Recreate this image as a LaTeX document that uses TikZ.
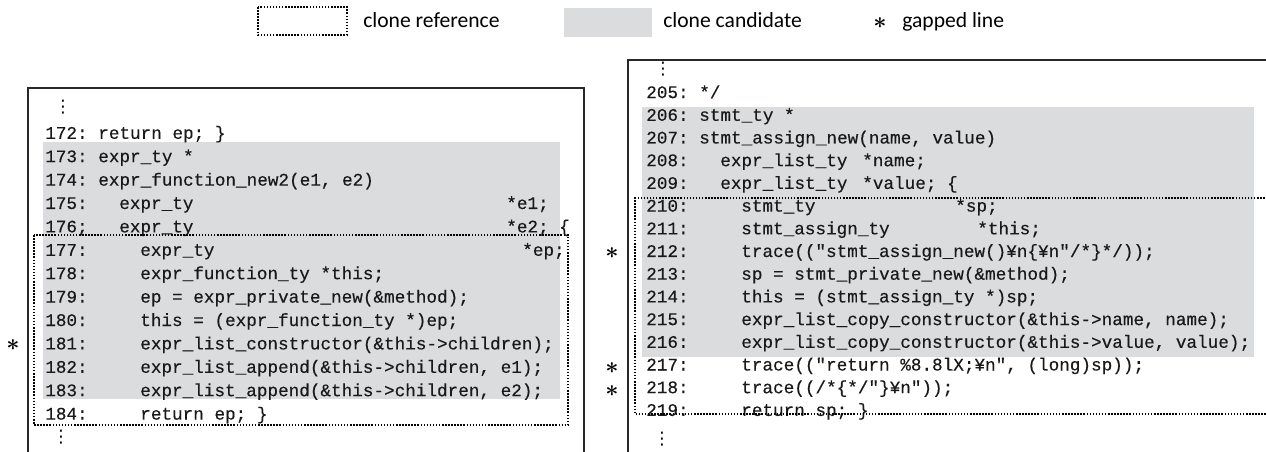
\documentclass[tikz,border=0pt]{standalone}
\usepackage{fontspec}
\newfontfamily\codefont{Liberation Mono}[FakeBold=0.3]
\newfontfamily\legfont{Carlito}
\newfontfamily\symfont{DejaVu Sans}
\definecolor{candgray}{RGB}{219,220,222}
\definecolor{linegray}{RGB}{40,40,40}
\newcommand\codesize{\fontsize{13.25}{16}\selectfont}
\newcommand\legsize{\fontsize{16.2}{19}\selectfont}
\tikzset{
  code/.style={anchor=base west, inner sep=0pt, font=\codefont\codesize, text=black!90},
  codeA/.style={code, yshift=-4.35pt},
  leg/.style={anchor=base west, inner sep=0pt, font=\legfont\legsize},
  boxline/.style={line width=1.1pt, draw=linegray},
  clonebox/.style={line width=1.15pt, dash pattern=on 1.15pt off 1.15pt, draw=black},
  cand/.style={fill=candgray, draw=none},
  gapmark/.style={inner sep=0pt, font=\fontsize{19}{19}\selectfont\boldmath},
  vdot/.style={inner sep=0pt, font=\symfont\fontsize{13}{13}\selectfont}
}
\begin{document}
\begin{tikzpicture}[x=0.75pt,y=-0.75pt]
\useasboundingbox (0,0) rectangle (1266,452);
\clip (0,0) rectangle (1266,452);

% ---------- legend ----------
\draw[clonebox] (258,7) rectangle (347,35);
\node[leg] (legref) at (363,28) {clone reference};
\fill[cand] (564,8) rectangle (652,37);
\node[leg] (legcand) at (663,28) {clone candidate};
\node[gapmark] (legstar) at (880,23) {$\ast$};
\node[leg] (leggap) at (902,28) {gapped line};

% ---------- left listing ----------
\fill[cand] (43,142) rectangle (560,399);
\draw[boxline] (28,470) -- (28,88) -- (584,88) -- (584,470);

\node[vdot] (Ldtop) at (63,107) {⋮};
\node[codeA] (L172n) at (45,133.0) {172:};
\node[codeA] (L172c) at (98,133.0) {return ep; \}};
\node[codeA] (L173n) at (45,156.4) {173:};
\node[codeA] (L173c) at (98,156.4) {expr\_ty *};
\node[codeA] (L174n) at (45,179.8) {174:};
\node[codeA] (L174c) at (98,179.8) {expr\_function\_new2(e1, e2)};
\node[codeA] (L175n) at (45,203.2) {175:};
\node[codeA] (L175c) at (119,203.2) {expr\_ty};
\node[codeA] (L175d) at (506,203.2) {*e1;};
\node[codeA] (L176n) at (45,226.6) {176;};
\node[codeA] (L176c) at (119,226.6) {expr\_ty};
\node[codeA] (L176d) at (506,226.6) {*e2; \{};
\node[codeA] (L177n) at (45,250.0) {177:};
\node[codeA] (L177c) at (140,250.0) {expr\_ty};
\node[codeA] (L177d) at (522,250.0) {*ep;};
\node[codeA] (L178n) at (45,273.4) {178:};
\node[codeA] (L178c) at (140,273.4) {expr\_function\_ty *this;};
\node[codeA] (L179n) at (45,296.8) {179:};
\node[codeA] (L179c) at (140,296.8) {ep = expr\_private\_new(\&method);};
\node[codeA] (L180n) at (45,320.2) {180:};
\node[codeA] (L180c) at (140,320.2) {this = (expr\_function\_ty *)ep;};
\node[codeA] (L181n) at (45,343.6) {181:};
\node[codeA] (L181c) at (140,343.6) {expr\_list\_constructor(\&this->children);};
\node[codeA] (L182n) at (45,367.0) {182:};
\node[codeA] (L182c) at (140,367.0) {expr\_list\_append(\&this->children, e1);};
\node[codeA] (L183n) at (45,390.4) {183:};
\node[codeA] (L183c) at (140,390.4) {expr\_list\_append(\&this->children, e2);};
\node[codeA] (L184n) at (45,413.8) {184:};
\node[codeA] (L184c) at (140,413.8) {return ep; \}};
\node[vdot] (Ldbot) at (61,437) {⋮};

\draw[clonebox] (34,235) rectangle (568,425);
\node[gapmark] (Lstar181) at (13,345) {$\ast$};

% ---------- right listing ----------
\fill[cand] (642,107) rectangle (1254,357);
\draw[boxline] (628,470) -- (628,60) -- (1280,60);

\node[vdot] (Rdtop) at (663,69) {⋮};
\node[codeA] (R205n) at (646,92.3) {205:};
\node[codeA] (R205c) at (699,92.3) {*/};
\node[codeA] (R206n) at (646,115.0) {206:};
\node[codeA] (R206c) at (699,115.0) {stmt\_ty *};
\node[codeA] (R207n) at (646,137.7) {207:};
\node[codeA] (R207c) at (699,137.7) {stmt\_assign\_new(name, value)};
\node[codeA] (R208n) at (646,160.4) {208:};
\node[codeA] (R208c) at (720,160.4) {expr\_list\_ty};
\node[codeA] (R208d) at (862,160.4) {*name;};
\node[codeA] (R209n) at (646,183.1) {209:};
\node[codeA] (R209c) at (720,183.1) {expr\_list\_ty};
\node[codeA] (R209d) at (862,183.1) {*value; \{};
\node[codeA] (R210n) at (646,205.8) {210:};
\node[codeA] (R210c) at (741,205.8) {stmt\_ty};
\node[codeA] (R210d) at (955,205.8) {*sp;};
\node[codeA] (R211n) at (646,228.5) {211:};
\node[codeA] (R211c) at (741,228.5) {stmt\_assign\_ty};
\node[codeA] (R211d) at (977,228.5) {*this;};
\node[codeA] (R212n) at (646,251.2) {212:};
\node[codeA] (R212c) at (741,251.2) {trace(("stmt\_assign\_new()¥n\{¥n"/*\}*/));};
\node[codeA] (R213n) at (646,273.9) {213:};
\node[codeA] (R213c) at (741,273.9) {sp = stmt\_private\_new(\&method);};
\node[codeA] (R214n) at (646,296.6) {214:};
\node[codeA] (R214c) at (741,296.6) {this = (stmt\_assign\_ty *)sp;};
\node[codeA] (R215n) at (646,319.3) {215:};
\node[codeA] (R215c) at (741,319.3) {expr\_list\_copy\_constructor(\&this->name, name);};
\node[codeA] (R216n) at (646,342.0) {216:};
\node[codeA] (R216c) at (741,342.0) {expr\_list\_copy\_constructor(\&this->value, value);};
\node[codeA] (R217n) at (646,364.7) {217:};
\node[codeA] (R217c) at (741,364.7) {trace(("return \%8.8lX;¥n", (long)sp));};
\node[codeA] (R218n) at (646,387.4) {218:};
\node[codeA] (R218c) at (741,387.4) {trace((/*\{*/"\}¥n"));};
\node[codeA] (R219n) at (646,410.1) {219:};
\node[codeA] (R219c) at (741,410.1) {return sp; \}};
\node[vdot] (Rdbot) at (662,439) {⋮};

\draw[clonebox] (1280,198) -- (635,198) -- (635,414) -- (1280,414);
\node[gapmark] (Rstar212) at (612,253) {$\ast$};
\node[gapmark] (Rstar217) at (612,368) {$\ast$};
\node[gapmark] (Rstar218) at (612,391) {$\ast$};
\end{tikzpicture}
\end{document}
